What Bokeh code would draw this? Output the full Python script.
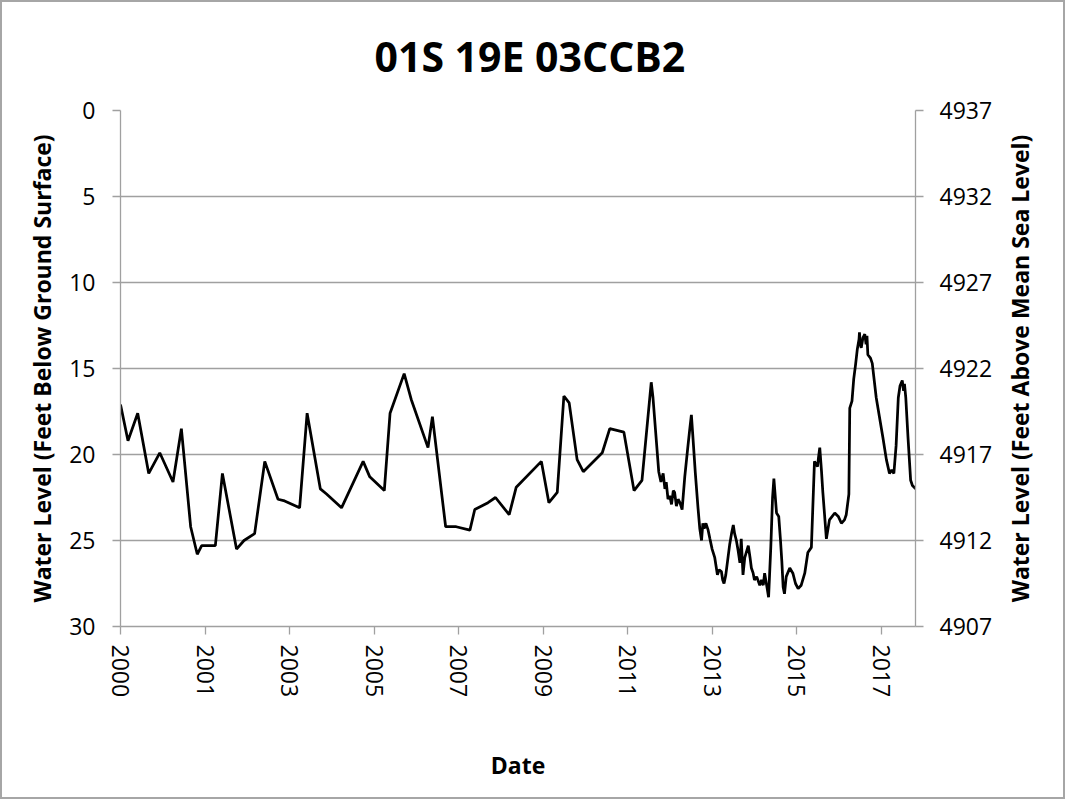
import math
import pandas as pd
from bokeh.plotting import figure
from bokeh.models import Range1d, LinearAxis, FixedTicker, DatetimeTickFormatter, Label
from bokeh.embed import file_html
from bokeh.resources import INLINE

# ---- data ----
title_text = "01S 19E 03CCB2"
x_label = "Date"
y_label_left = "Water Level (Feet Below Ground Surface)"
y_label_right = "Water Level (Feet Above Mean Sea Level)"

# decimal years
years = [
    2000.00, 2000.17, 2000.39, 2000.64, 2000.89, 2001.19, 2001.38, 2001.59, 2001.74, 2001.84,
    2002.15, 2002.31, 2002.63, 2002.80, 2003.04, 2003.27, 2003.57, 2003.72, 2004.06, 2004.23,
    2004.53, 2004.67, 2005.01, 2005.50, 2005.65, 2005.98, 2006.11, 2006.43, 2006.59, 2006.97,
    2007.07, 2007.37, 2007.61, 2007.92, 2008.03, 2008.33, 2008.50, 2008.81, 2008.97, 2009.54,
    2009.71, 2009.90, 2010.05, 2010.17, 2010.35, 2010.49, 2010.92, 2011.09, 2011.41, 2011.64,
    2011.82, 2012.03, 2012.07, 2012.20, 2012.25, 2012.30, 2012.34, 2012.37, 2012.41, 2012.45,
    2012.49, 2012.53, 2012.56, 2012.60, 2012.64, 2012.68, 2012.73, 2012.79, 2012.85, 2012.90,
    2012.94, 2012.97, 2013.03, 2013.09, 2013.13, 2013.17, 2013.20, 2013.23, 2013.27, 2013.32,
    2013.36, 2013.41, 2013.47, 2013.50, 2013.53, 2013.57, 2013.62, 2013.65, 2013.68, 2013.72,
    2013.77, 2013.81, 2013.85, 2013.89, 2013.92, 2013.96, 2014.00, 2014.04, 2014.07, 2014.11,
    2014.15, 2014.23, 2014.27, 2014.30, 2014.34, 2014.37, 2014.42, 2014.49, 2014.53, 2014.57,
    2014.60, 2014.64, 2014.69, 2014.74, 2014.78, 2014.81, 2014.87, 2014.92, 2014.96, 2014.99,
    2015.02, 2015.05, 2015.09, 2015.17, 2015.24, 2015.30, 2015.36, 2015.43, 2015.51, 2015.58,
    2015.66, 2015.73, 2015.80, 2015.82, 2015.85, 2015.89, 2015.92, 2016.00, 2016.07, 2016.19,
    2016.27, 2016.34, 2016.41, 2016.45, 2016.51, 2016.53, 2016.58, 2016.62, 2016.66, 2016.70,
    2016.74, 2016.75, 2016.77, 2016.79, 2016.83, 2016.87, 2016.90, 2016.92, 2016.94, 2017.00,
    2017.04, 2017.13, 2017.28, 2017.36, 2017.43, 2017.48, 2017.53, 2017.58, 2017.63, 2017.67,
    2017.72, 2017.75, 2017.77, 2017.80, 2017.85, 2017.91, 2017.95, 2017.99, 2018.02,
]
depth = [
    17.1, 19.2, 17.6, 21.1, 19.9, 21.6, 18.5, 24.2, 25.8, 25.3,
    25.3, 21.1, 25.5, 25.0, 24.6, 20.4, 22.6, 22.7, 23.1, 17.6,
    22.0, 22.3, 23.1, 20.4, 21.3, 22.1, 17.6, 15.3, 16.8, 19.6,
    17.8, 24.2, 24.2, 24.4, 23.2, 22.8, 22.5, 23.5, 21.9, 20.4,
    22.8, 22.2, 16.6, 17.0, 20.3, 21.0, 19.9, 18.5, 18.7, 22.1,
    21.5, 15.8, 16.7, 21.0, 21.6, 21.1, 22.0, 21.6, 22.6, 22.4,
    22.9, 22.1, 22.2, 23.0, 22.6, 22.8, 23.2, 21.3, 19.8, 18.6,
    17.7, 18.8, 21.1, 23.1, 24.3, 25.0, 24.0, 24.3, 24.0, 24.4,
    24.9, 25.5, 26.0, 26.5, 27.0, 26.7, 26.8, 27.3, 27.5, 27.0,
    26.0, 25.2, 24.6, 24.1, 24.6, 25.0, 25.6, 26.3, 24.9, 27.0,
    26.0, 25.3, 26.0, 26.6, 26.9, 27.3, 27.1, 27.6, 27.3, 27.6,
    26.9, 27.5, 28.3, 25.4, 22.5, 21.4, 23.4, 23.6, 25.0, 26.2,
    27.7, 28.1, 27.1, 26.6, 26.9, 27.5, 27.8, 27.6, 26.9, 25.7,
    25.4, 20.4, 20.7, 20.2, 19.6, 21.0, 22.2, 24.9, 23.8, 23.4,
    23.6, 24.0, 23.8, 23.5, 22.3, 17.3, 16.9, 15.6, 14.8, 13.9,
    13.3, 12.9, 13.6, 13.8, 13.2, 13.0, 13.6, 13.1, 14.2, 14.4,
    14.7, 16.7, 19.0, 20.3, 21.1, 20.9, 21.1, 19.5, 16.7, 16.0,
    15.7, 16.3, 15.9, 16.7, 19.0, 21.5, 21.8, 21.9, 22.0,
]
land_surface = 4937  # ft above mean sea level at depth 0
depth_ticks = [0, 5, 10, 15, 20, 25, 30]
tick_step_days = 700

# ---- conversions ----
origin = pd.Timestamp("2000-01-01")
dates = [origin + pd.to_timedelta((y - 2000.0) * 365.25, unit="D") for y in years]
x_start = dates[0]
x_end = dates[-1]
tick_dates = []
t = x_start
while t <= x_end:
    tick_dates.append(t)
    t = t + pd.Timedelta(days=tick_step_days)
tick_ms = [d.value / 1e6 for d in tick_dates]
x_end_ms = x_end.value / 1e6

FONT = "Open Sans"
GRID = "#a0a0a0"

W, H = 1065, 799
p = figure(
    width=W, height=H,
    x_axis_type="datetime",
    x_range=Range1d(x_start, x_end),
    y_range=Range1d(max(depth_ticks), min(depth_ticks)),
    output_backend="svg", toolbar_location=None,
    min_border_left=118, min_border_right=152, min_border_top=107, min_border_bottom=175,
    title=title_text,
)
p.styles = {"border": "2px solid #a6a6a6"}
p.outline_line_color = None
p.background_fill_color = "white"
p.border_fill_color = "white"

p.title.text_font = FONT
p.title.text_font_style = "bold"
p.title.text_font_size = "41px"
p.title.text_color = "black"
p.title.align = "left"
p.title.offset = 254
p.title.vertical_align = "top"
p.title.standoff = 50

p.line(dates, depth, line_color="black", line_width=2.75)

# x axis
xa = p.xaxis[0]
xa.ticker = FixedTicker(ticks=tick_ms)
xa.formatter = DatetimeTickFormatter(
    days="%Y", months="%Y", years="%Y", hours="%Y", hourmin="%Y",
    minutes="%Y", minsec="%Y", seconds="%Y", milliseconds="%Y", microseconds="%Y",
)
xa.major_label_orientation = -math.pi / 2
xa.axis_label = x_label

# left axis
ya = p.yaxis[0]
ya.ticker = FixedTicker(ticks=depth_ticks)
ya.axis_label = y_label_left

# right axis (feet above mean sea level)
msl_lo = land_surface - max(depth_ticks)
msl_hi = land_surface - min(depth_ticks)
p.extra_y_ranges = {"msl": Range1d(msl_lo, msl_hi)}
ra = LinearAxis(y_range_name="msl", ticker=FixedTicker(ticks=[land_surface - d for d in depth_ticks]))
p.add_layout(ra, "right")

for ax in (xa, ya, ra):
    ax.axis_line_color = GRID
    ax.axis_line_width = 1.3
    ax.major_tick_line_color = GRID
    ax.major_tick_line_width = 1.3
    ax.major_tick_out = 8
    ax.major_tick_in = 0
    ax.minor_tick_line_color = None
    ax.major_label_text_font = FONT
    ax.major_label_text_font_size = "23px"
    ax.major_label_text_color = "black"
    ax.axis_label_text_font = FONT
    ax.axis_label_text_font_style = "bold"
    ax.axis_label_text_font_size = "23px"
    ax.axis_label_text_color = "black"

xa.major_label_standoff = 10
xa.axis_label_standoff = 49
ya.major_label_standoff = 17
ya.axis_label_standoff = 8
ra.major_label_standoff = 16

# right-hand axis title, reading bottom to top (in a side panel so it is not clipped)
right_title = Label(
    x=x_end_ms, y=(max(depth_ticks) + min(depth_ticks)) / 2, x_offset=104,
    text=y_label_right, angle=math.pi / 2,
    text_align="center", text_baseline="middle",
    text_font=FONT, text_font_style="bold", text_font_size="23px", text_color="black",
)
p.add_layout(right_title, "right")

p.xgrid.grid_line_color = None
p.ygrid.ticker = FixedTicker(ticks=depth_ticks)
p.ygrid.grid_line_color = GRID
p.ygrid.grid_line_width = 1.3

open("out.html", "w").write(file_html(p, INLINE))
